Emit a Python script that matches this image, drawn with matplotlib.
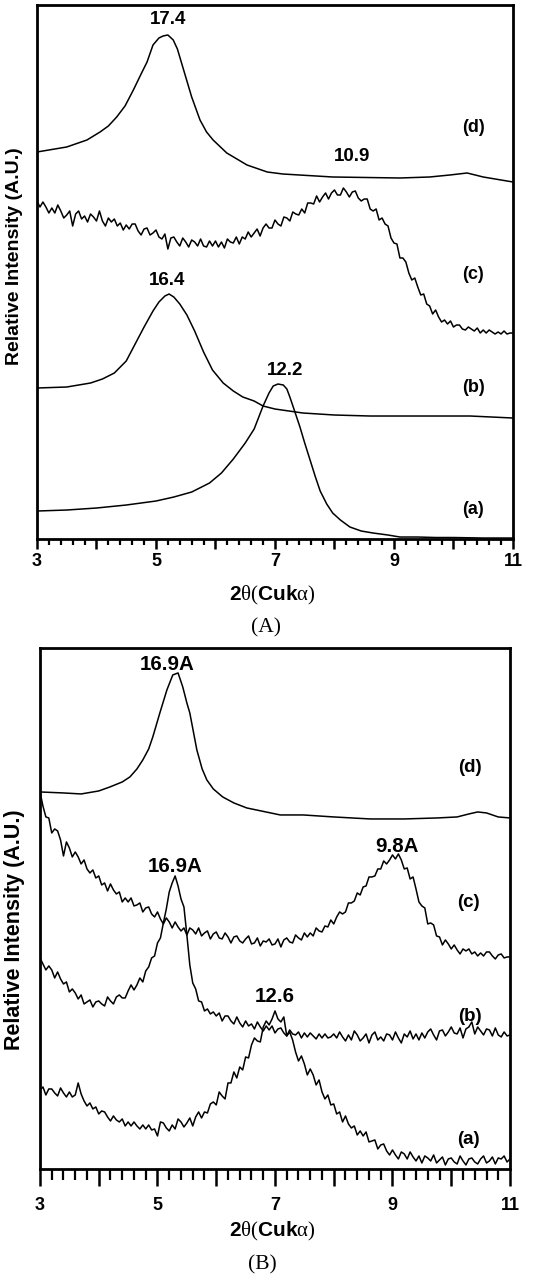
import numpy as np
import matplotlib
matplotlib.use("Agg")
import matplotlib.pyplot as plt
from matplotlib.ticker import MultipleLocator

plt.rcParams['font.family'] = ['Liberation Sans', 'DejaVu Sans']
plt.rcParams['mathtext.fontset'] = 'custom'
plt.rcParams['mathtext.rm'] = 'Liberation Serif'
plt.rcParams['mathtext.it'] = 'Liberation Serif:italic'

# ---------------- data ----------------
# common 2-theta grid for noisy scans (3.00 .. 11.00 step 0.05)
theta = np.round(np.linspace(3.0, 11.0, 161), 2)

# Panel A
A_d_x = [3.0, 3.5, 3.84, 4.06, 4.2, 4.34, 4.48, 4.62, 4.75, 4.85, 4.95, 5.05, 5.12, 5.2, 5.29, 5.36,
         5.43, 5.52, 5.6, 5.74, 5.85, 5.96, 6.19, 6.53, 6.87, 7.13, 7.97, 9.1, 9.6, 9.94, 10.23, 10.5, 11.0]
A_d_y = [387, 392, 399, 407, 413, 422, 433, 449, 465, 477, 494, 501, 503, 504, 499, 490,
         476, 458, 442, 419, 407, 399, 386, 374, 367, 365, 362, 361, 362, 364, 366, 362, 357]

A_c_y = [338, 332, 337, 332, 326, 331, 326, 334, 328, 321,
         324, 328, 313, 325, 328, 320, 323, 317, 325, 322,
         318, 328, 318, 313, 321, 317, 320, 313, 316, 309,
         314, 310, 315, 315, 308, 304, 310, 311, 304, 306,
         309, 302, 300, 305, 290, 301, 302, 297, 293, 301,
         297, 292, 299, 297, 293, 300, 293, 292, 298, 293,
         298, 292, 297, 291, 300, 297, 296, 302, 295, 302,
         300, 307, 302, 306, 310, 303, 311, 315, 311, 311,
         319, 315, 313, 322, 321, 318, 327, 325, 324, 330,
         326, 336, 336, 335, 343, 337, 342, 346, 340, 346,
         349, 344, 344, 351, 347, 342, 347, 348, 341, 338,
         340, 340, 330, 328, 330, 319, 321, 315, 313, 301,
         296, 295, 281, 281, 277, 266, 259, 261, 252, 244,
         245, 235, 233, 225, 229, 222, 217, 219, 215, 218,
         212, 214, 214, 210, 209, 212, 210, 208, 211, 206,
         209, 206, 209, 207, 205, 207, 205, 208, 205, 206,
         206]

A_b_x = [3.0, 3.5, 3.9, 4.1, 4.3, 4.5, 4.65, 4.8, 4.95, 5.05, 5.15, 5.22, 5.3, 5.4, 5.52, 5.65,
         5.8, 5.95, 6.13, 6.3, 6.46, 6.65, 6.8, 7.0, 7.47, 8.0, 8.6, 9.5, 10.28, 11.0]
A_b_y = [151, 152, 156, 160, 166, 178, 195, 212, 228, 237, 243, 245, 242, 235, 224, 208,
         187, 169, 156, 148, 142, 138, 133, 130, 126, 124, 123, 123, 123, 121]

A_a_x = [3.0, 3.5, 4.0, 4.5, 5.0, 5.3, 5.6, 5.9, 6.1, 6.3, 6.5, 6.65, 6.8, 6.9, 6.97, 7.05, 7.14,
         7.2, 7.25, 7.33, 7.42, 7.5, 7.59, 7.68, 7.76, 7.87, 7.97, 8.1, 8.26, 8.45, 8.65, 8.9, 9.1,
         9.4, 9.7, 10.0, 10.5, 11.0]
A_a_y = [28, 29, 31, 34, 38, 42, 47, 56, 66, 80, 96, 110, 133, 146, 153, 155, 154,
         150, 142, 128, 112, 96, 79, 62, 48, 35, 26, 19, 12, 8, 6, 4, 2,
         2, 1.5, 1.5, 1, 1]

# Panel B
B_d_x = [3.0, 3.4, 3.7, 4.0, 4.19, 4.4, 4.53, 4.65, 4.75, 4.85, 4.92, 5.04, 5.16, 5.26, 5.35, 5.43,
         5.5, 5.55, 5.67, 5.76, 5.84, 5.95, 6.11, 6.3, 6.52, 7.09, 7.48, 8.0, 8.62, 9.2, 9.76, 10.1,
         10.3, 10.45, 10.6, 10.8, 11.0]
B_d_y = [377, 376, 375, 378, 382, 387, 392, 400, 409, 420, 432, 456, 479, 494, 496, 482,
         466, 456, 419, 400, 389, 380, 372, 366, 361, 354, 354, 352, 350, 350, 351, 352,
         355, 357, 356, 352, 351]

B_c_y = [377, 363, 352, 351, 336, 340, 338, 329, 313, 327,
         321, 312, 317, 312, 305, 309, 300, 296, 299, 291,
         293, 284, 286, 278, 285, 279, 275, 277, 267, 271,
         267, 271, 263, 264, 266, 257, 261, 262, 255, 252,
         257, 250, 245, 251, 247, 241, 247, 242, 238, 241,
         234, 241, 239, 235, 241, 233, 236, 238, 230, 235,
         237, 231, 230, 236, 232, 226, 232, 233, 228, 226,
         230, 233, 225, 226, 231, 223, 228, 227, 230, 224,
         225, 230, 222, 229, 231, 227, 226, 234, 231, 229,
         236, 232, 236, 233, 241, 238, 237, 243, 242, 249,
         245, 252, 257, 255, 257, 266, 266, 268, 276, 274,
         282, 283, 292, 292, 293, 300, 300, 308, 305, 309,
         314, 310, 315, 309, 300, 301, 290, 292, 280, 267,
         263, 261, 245, 246, 244, 233, 232, 224, 229, 225,
         220, 224, 219, 215, 220, 218, 220, 215, 217, 213,
         216, 213, 217, 217, 213, 210, 214, 215, 211, 212,
         212]

B_b_y = [211, 205, 199, 203, 199, 191, 197, 190, 185, 187,
         177, 180, 176, 170, 174, 165, 167, 169, 162, 167,
         168, 165, 163, 172, 168, 165, 172, 174, 171, 171,
         178, 184, 179, 184, 191, 187, 198, 202, 211, 213,
         226, 231, 246, 260, 277, 286, 293, 283, 270, 262,
         234, 204, 186, 180, 168, 167, 158, 160, 155, 157,
         153, 156, 148, 153, 153, 148, 145, 152, 146, 142,
         148, 143, 145, 140, 147, 142, 138, 143, 139, 143,
         136, 140, 141, 136, 133, 139, 135, 134, 137, 131,
         136, 132, 136, 133, 130, 135, 131, 135, 131, 132,
         135, 131, 137, 132, 128, 134, 129, 138, 134, 128,
         131, 135, 126, 134, 137, 129, 132, 128, 135, 134,
         129, 137, 131, 126, 135, 132, 138, 130, 135, 129,
         136, 131, 137, 140, 134, 129, 138, 139, 133, 137,
         142, 136, 135, 141, 131, 140, 142, 147, 135, 142,
         138, 134, 140, 139, 133, 141, 134, 132, 137, 133,
         134]

B_a_y = [79, 82, 74, 80, 80, 76, 73, 81, 76, 72,
         77, 72, 74, 86, 75, 68, 63, 66, 60, 62,
         55, 58, 57, 52, 48, 53, 49, 47, 50, 43,
         47, 43, 47, 43, 40, 44, 40, 44, 39, 40,
         33, 47, 46, 41, 38, 44, 40, 50, 47, 42,
         46, 51, 43, 52, 57, 51, 57, 56, 65, 67,
         64, 77, 73, 70, 86, 86, 97, 91, 102, 99,
         112, 111, 124, 131, 128, 127, 142, 148, 144, 150,
         158, 150, 147, 152, 133, 137, 129, 117, 108, 113,
         105, 94, 100, 94, 84, 89, 77, 70, 74, 64,
         65, 55, 57, 47, 53, 45, 41, 43, 34, 38,
         33, 37, 27, 28, 29, 20, 24, 25, 18, 14,
         19, 14, 10, 17, 15, 10, 17, 12, 8, 13,
         6, 13, 11, 8, 14, 6, 9, 12, 4, 10,
         11, 7, 5, 13, 8, 4, 10, 11, 7, 5,
         10, 13, 6, 8, 12, 5, 11, 10, 13, 7,
         10]

xticks = [3, 4, 5, 6, 7, 8, 9, 10, 11]
xticklabels = ["3", "", "5", "", "7", "", "9", "", "11"]

A_peak_labels = ["17.4", "10.9", "16.4", "12.2"]
A_peak_pos = [(5.2, 519), (8.29, 382), (5.18, 259), (7.17, 169)]
B_peak_labels = ["16.9A", "9.8A", "16.9A", "12.6"]
B_peak_pos = [(5.16, 504), (9.08, 322), (5.3, 302), (7.0, 172)]
curve_tags = ["(d)", "(c)", "(b)", "(a)"]
A_tag_pos = [(10.33, 411), (10.33, 265), (10.33, 152), (10.33, 30)]
B_tag_pos = [(10.32, 401), (10.30, 266), (10.32, 152), (10.30, 29)]

# ---------------- figure ----------------
fig = plt.figure(figsize=(5.39, 12.77), dpi=100)
axA = fig.add_axes([0.0686, 0.5779, 0.8831, 0.4182])
axB = fig.add_axes([0.0742, 0.0846, 0.8720, 0.4080])

lw = 1.1
axA.plot(A_d_x, A_d_y, color='black', lw=lw)
axA.plot(theta, A_c_y, color='black', lw=lw)
axA.plot(A_b_x, A_b_y, color='black', lw=lw)
axA.plot(A_a_x, A_a_y, color='black', lw=lw)

axB.plot(B_d_x, B_d_y, color='black', lw=lw)
axB.plot(theta, B_c_y, color='black', lw=lw)
axB.plot(theta, B_b_y, color='black', lw=lw)
axB.plot(theta, B_a_y, color='black', lw=lw)

axA.set_ylim(0, 534)
axB.set_ylim(0, 521)

for ax, maj, mnr, pad in [(axA, 7, 4.5, 3.0), (axB, 12, 8, 8.0)]:
    ax.set_xlim(3, 11)
    ax.set_xticks(xticks)
    ax.set_xticklabels(xticklabels, fontweight='bold', fontsize=13)
    ax.xaxis.set_minor_locator(MultipleLocator(0.2))
    ax.tick_params(axis='x', which='major', direction='out', length=maj, width=1.8, pad=pad)
    ax.tick_params(axis='x', which='minor', direction='out', length=mnr, width=1.6)
    ax.set_yticks([])
    for s in ax.spines.values():
        s.set_linewidth(2.0)

# y labels
axA.set_ylabel("Relative Intensity (A.U.)", fontweight='bold', fontsize=14)
axA.yaxis.label.set_va('center')
axA.yaxis.set_label_coords(-0.048, 0.53)
axB.set_ylabel("Relative Intensity (A.U.)", fontweight='bold', fontsize=15.5)
axB.yaxis.label.set_va('center')
axB.yaxis.set_label_coords(-0.055, 0.46)

# x labels
xl = r"2$\mathrm{\theta(}$Cuk$\mathrm{\alpha)}$"
axA.set_xlabel(xl, fontweight='bold', fontsize=15)
axA.xaxis.label.set_va('center')
axA.xaxis.set_label_coords(0.494, (539 - 595) / 534)
axB.set_xlabel(xl, fontweight='bold', fontsize=15)
axB.xaxis.label.set_va('center')
axB.xaxis.set_label_coords(0.494, (1169 - 1232) / 521)

# panel captions
fig.text(266 / 539, 1 - 628 / 1277, "(A)", family='Liberation Serif', fontsize=15.5,
         ha='center', va='center')
fig.text(262 / 539, 1 - 1265 / 1277, "(B)", family='Liberation Serif', fontsize=15.5,
         ha='center', va='center')

for lab, (x, y) in zip(A_peak_labels, A_peak_pos):
    axA.text(x, y, lab, fontweight='bold', fontsize=13.5, ha='center', va='center')
for lab, (x, y) in zip(B_peak_labels, B_peak_pos):
    axB.text(x, y, lab, fontweight='bold', fontsize=14.8, ha='center', va='center')
for lab, (x, y) in zip(curve_tags, A_tag_pos):
    axA.text(x, y, lab, fontweight='bold', fontsize=13, ha='center', va='center')
for lab, (x, y) in zip(curve_tags, B_tag_pos):
    axB.text(x, y, lab, fontweight='bold', fontsize=13.5, ha='center', va='center')

fig.savefig("out.png", dpi=100)
